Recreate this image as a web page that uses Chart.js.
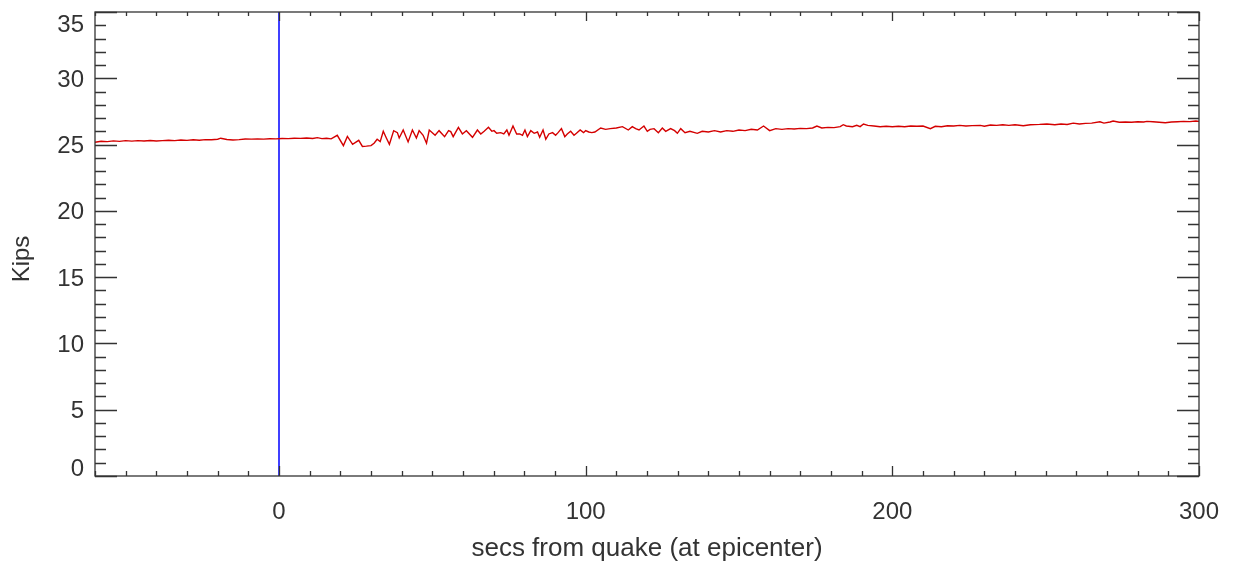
<!DOCTYPE html>
<html>
<head>
<meta charset="utf-8">
<script src="https://cdn.jsdelivr.net/npm/chart.js@4.4.1/dist/chart.umd.min.js"></script>
<style>
  html, body { margin: 0; padding: 0; background: #fff; }
</style>
</head>
<body>
<canvas id="chart" width="1239" height="564"></canvas>
<script>
// seconds relative to the quake (at epicenter)
const TIMES = [
  -60, -58, -56, -54, -52, -50, -48, -46, -44, -42,
  -40, -38, -36, -34, -32, -30, -28, -26, -24, -22,
  -20, -19, -17, -15, -13, -11, -9, -7, -5, -3,
  -1, 1, 3, 5, 7, 9, 11, 12.5, 14, 15.5,
  17, 19, 21, 22.3, 24, 26, 27.2, 28.5, 30, 31,
  32, 33, 34, 35, 36, 37.4, 38.6, 39.2, 40.5, 42.1,
  43.5, 44.8, 45.7, 47, 48.1, 49, 50.9, 52.2, 54, 55.3,
  56, 56.8, 58.5, 59.8, 61.1, 63.1, 64.7, 65.8, 66.9, 68.3,
  69.4, 70.1, 71, 72.3, 73.3, 74.3, 75, 76.3, 77.5, 78.5,
  79.4, 80.2, 81, 82.1, 83.2, 84.3, 85, 86.1, 87, 88,
  89.2, 90.2, 91, 92.1, 93.2, 94, 95.1, 96.2, 97, 98.2,
  99.3, 100, 101, 102, 103, 104.9, 106.5, 108, 110, 112,
  113.9, 115.2, 116.3, 117.4, 119, 120.1, 121, 122.3, 123.7, 125,
  126.1, 127.7, 129, 129.9, 131, 132.4, 134, 136.4, 138, 140,
  142, 144, 146, 148, 150, 152, 154, 156, 158, 160,
  162, 164, 166, 168, 170, 172, 174, 175.4, 177, 179,
  181, 183, 184, 185, 187, 188.4, 189.5, 190.6, 192, 194,
  196, 198, 200, 202, 204, 206, 208, 210, 212.4, 214,
  216, 218, 220, 222, 224, 226, 228.7, 230, 232, 234,
  236, 238, 240, 242.7, 245, 248, 250.4, 253, 255, 257,
  259, 261, 263, 265, 267.7, 269, 271, 272, 274, 276,
  278, 280, 282, 283, 285, 287, 289, 291, 293, 295,
  297, 299, 300
];

const KIPS = [
  25.18, 25.25, 25.22, 25.28, 25.24, 25.30, 25.26, 25.30, 25.27, 25.31,
  25.27, 25.30, 25.33, 25.30, 25.34, 25.32, 25.36, 25.33, 25.37, 25.36,
  25.40, 25.48, 25.38, 25.35, 25.37, 25.42, 25.41, 25.43, 25.41, 25.44,
  25.43, 25.46, 25.45, 25.48, 25.47, 25.49, 25.46, 25.52, 25.45, 25.48,
  25.43, 25.70, 24.92, 25.62, 25.02, 25.32, 24.86, 24.88, 24.92, 25.10,
  25.40, 25.22, 26.00, 25.50, 25.02, 26.05, 25.90, 25.50, 26.10, 25.20,
  26.10, 25.50, 26.05, 25.70, 25.10, 26.10, 25.70, 26.05, 25.60, 26.05,
  25.98, 25.60, 26.30, 25.80, 26.05, 25.55, 26.10, 25.80, 26.00, 26.30,
  26.00, 26.05, 25.85, 25.90, 25.80, 26.10, 25.70, 26.40, 25.80, 25.80,
  25.70, 26.10, 25.60, 26.05, 25.85, 25.95, 25.55, 26.10, 25.40, 25.80,
  25.90, 25.70, 25.90, 26.20, 25.60, 25.80, 26.00, 25.70, 25.85, 26.10,
  25.90, 26.05, 25.95, 25.90, 25.95, 26.25, 26.15, 26.20, 26.25, 26.35,
  26.10, 26.35, 26.20, 26.10, 26.40, 26.00, 26.15, 26.20, 25.90, 26.25,
  26.00, 26.20, 26.05, 25.85, 26.20, 25.90, 26.00, 25.85, 26.00, 25.95,
  26.05, 25.95, 26.05, 26.00, 26.10, 26.05, 26.15, 26.10, 26.40, 26.05,
  26.20, 26.15, 26.20, 26.18, 26.22, 26.20, 26.25, 26.40, 26.25, 26.30,
  26.28, 26.35, 26.50, 26.40, 26.35, 26.45, 26.35, 26.55, 26.45, 26.40,
  26.35, 26.38, 26.35, 26.38, 26.35, 26.40, 26.38, 26.40, 26.20, 26.38,
  26.35, 26.42, 26.40, 26.45, 26.40, 26.43, 26.45, 26.38, 26.48, 26.45,
  26.50, 26.45, 26.50, 26.42, 26.50, 26.52, 26.55, 26.50, 26.55, 26.52,
  26.62, 26.55, 26.60, 26.62, 26.72, 26.62, 26.70, 26.78, 26.68, 26.70,
  26.68, 26.72, 26.70, 26.75, 26.72, 26.68, 26.65, 26.70, 26.72, 26.75,
  26.73, 26.78, 26.75
];

const QUAKE_T = 0;
const X_MIN = -60, X_MAX = 300, X_MINOR = 10;
const X_TICKS = [0, 100, 200, 300];
const Y_MIN = 0, Y_MAX = 35, Y_MINOR = 1;
const Y_TICKS = [0, 5, 10, 15, 20, 25, 30, 35];
const X_TITLE = 'secs from quake (at epicenter)';
const Y_TITLE = 'Kips';

const INK = '#333';
const FAMILY = '"Liberation Sans", Arial, sans-serif';
const FONT = { family: FAMILY, size: 24 };

// IDL-style box: frame on all four sides, ticks pointing inwards
const boxTicks = {
  id: 'boxTicks',
  afterDatasetsDraw(chart) {
    const { ctx, chartArea: a, scales: { x, y } } = chart;
    ctx.save();
    ctx.strokeStyle = INK;
    ctx.lineWidth = 1.3;
    ctx.strokeRect(a.left, a.top, a.right - a.left, a.bottom - a.top);
    ctx.beginPath();
    for (let v = Y_MIN; v <= Y_MAX; v += Y_MINOR) {
      const py = Math.round(y.getPixelForValue(v)) + 0.5;
      const len = Y_TICKS.includes(v) ? 22 : 11;
      ctx.moveTo(a.left, py); ctx.lineTo(a.left + len, py);
      ctx.moveTo(a.right, py); ctx.lineTo(a.right - len, py);
    }
    for (let v = X_MIN; v <= X_MAX; v += X_MINOR) {
      const px = Math.round(x.getPixelForValue(v)) + 0.5;
      const major = X_TICKS.includes(v);
      ctx.moveTo(px, a.bottom); ctx.lineTo(px, a.bottom - (major ? 10 : 5));
      ctx.moveTo(px, a.top); ctx.lineTo(px, a.top + (major ? 9 : 4));
    }
    ctx.stroke();

    // y labels: IDL keeps the end labels inside the axis span
    ctx.fillStyle = INK;
    ctx.font = `${FONT.size}px ${FAMILY}`;
    ctx.textAlign = 'right';
    ctx.textBaseline = 'middle';
    Y_TICKS.forEach(v => {
      const py = Math.min(Math.max(y.getPixelForValue(v) + 2, a.top + 13), a.bottom - 7);
      ctx.fillText(String(v), a.left - 11, py);
    });

    ctx.textAlign = 'center';
    ctx.translate(22, 259);
    ctx.rotate(-Math.PI / 2);
    ctx.fillText(Y_TITLE, 0, 0);
    ctx.restore();
  }
};

new Chart(document.getElementById('chart'), {
  type: 'line',
  data: {
    datasets: [
      {
        label: 'Kips',
        data: TIMES.map((t, i) => ({ x: t, y: KIPS[i] })),
        borderColor: '#d40000',
        borderWidth: 1.4,
        pointRadius: 0,
        tension: 0,
        order: 0,
      },
      {
        label: 'quake',
        data: [{ x: QUAKE_T, y: Y_MIN }, { x: QUAKE_T, y: Y_MAX }],
        borderColor: '#0000ff',
        borderWidth: 1.5,
        pointRadius: 0,
        order: 1,
      }
    ]
  },
  options: {
    responsive: false,
    animation: false,
    layout: { padding: { left: 0, right: 40, top: 12, bottom: 0 } },
    plugins: { legend: { display: false }, tooltip: { enabled: false } },
    scales: {
      x: {
        type: 'linear', min: X_MIN, max: X_MAX,
        grid: { display: false, drawTicks: false },
        border: { display: false },
        ticks: { color: INK, font: FONT, padding: 22, maxRotation: 0 },
        afterBuildTicks(s) { s.ticks = X_TICKS.map(v => ({ value: v })); },
        title: { display: true, text: X_TITLE, color: INK, font: { family: FAMILY, size: 26 }, padding: { top: 0, bottom: 0 } },
        afterFit(s) { s.height = 88; s.paddingLeft = 0; s.paddingRight = 0; }
      },
      y: {
        min: Y_MIN, max: Y_MAX,
        grid: { display: false, drawTicks: false },
        border: { display: false },
        ticks: { display: false },
        afterBuildTicks(s) { s.ticks = Y_TICKS.map(v => ({ value: v })); },
        afterFit(s) { s.width = 95; s.paddingTop = 0; s.paddingBottom = 0; }
      }
    }
  },
  plugins: [boxTicks]
});
</script>
</body>
</html>
